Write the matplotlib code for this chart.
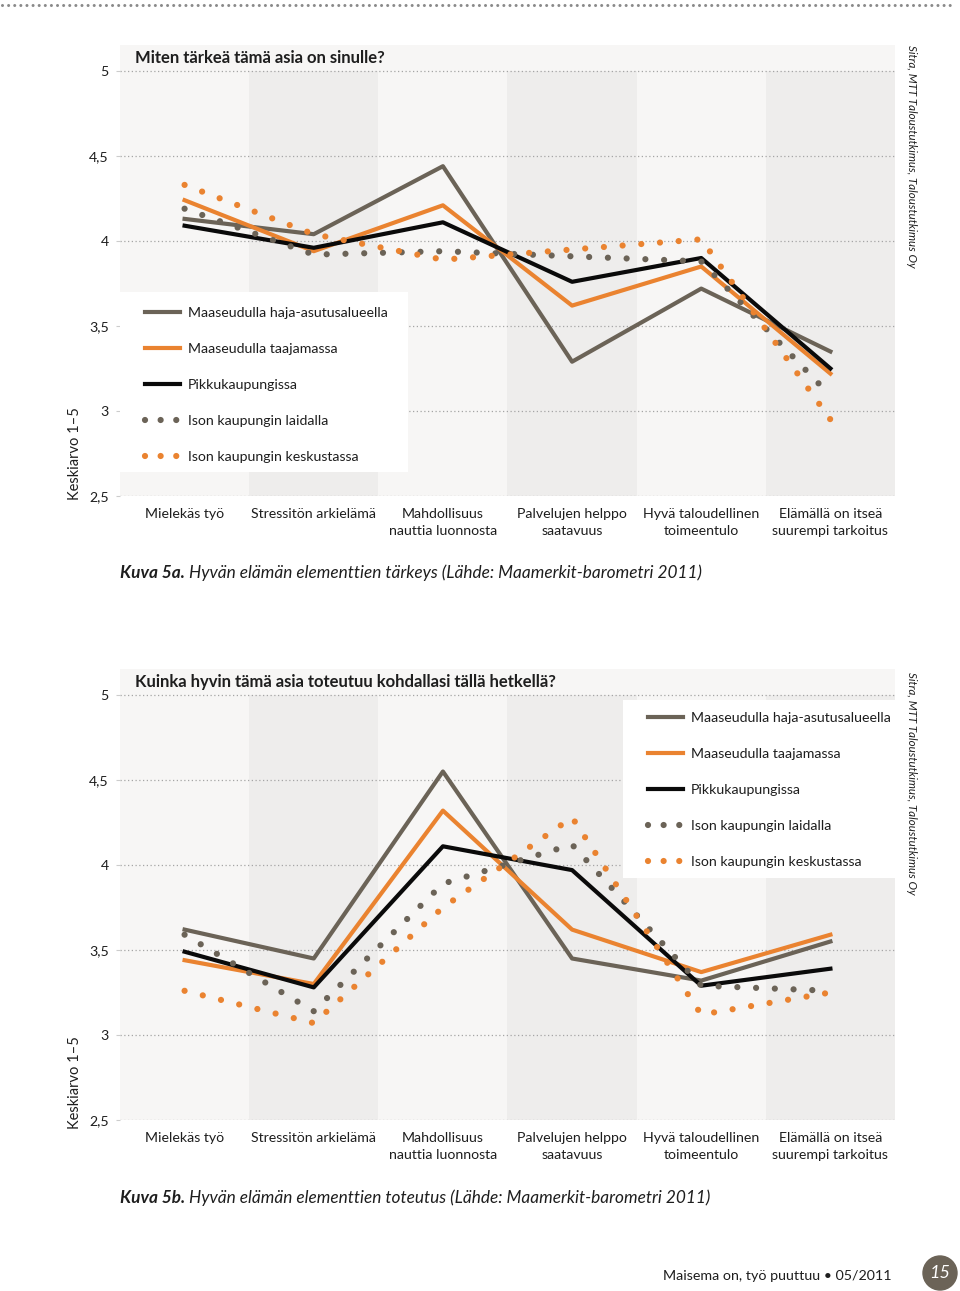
import matplotlib
matplotlib.use("Agg")
import matplotlib.pyplot as plt
from matplotlib.lines import Line2D
from matplotlib.patches import Rectangle, Circle

plt.rcParams['font.family'] = ['Lato', 'DejaVu Sans']

categories = ["Mielekäs työ", "Stressitön arkielämä", "Mahdollisuus\nnauttia luonnosta",
              "Palvelujen helppo\nsaatavuus", "Hyvä taloudellinen\ntoimeentulo",
              "Elämällä on itseä\nsuurempi tarkoitus"]
series_names = ["Maaseudulla haja-asutusalueella", "Maaseudulla taajamassa", "Pikkukaupungissa",
                "Ison kaupungin laidalla", "Ison kaupungin keskustassa"]
y_ticks = [2.5, 3, 3.5, 4, 4.5, 5]
y_ticklabels = ["2,5", "3", "3,5", "4", "4,5", "5"]

# Kuva 5a - tarkeys
a_haja = [4.13, 4.04, 4.44, 3.29, 3.72, 3.35]
a_taajama = [4.24, 3.94, 4.21, 3.62, 3.85, 3.22]
a_pikku = [4.09, 3.96, 4.11, 3.76, 3.90, 3.25]
a_laita = [4.19, 3.92, 3.94, 3.91, 3.88, 3.09]
a_keskusta = [4.33, 4.04, 3.89, 3.95, 4.01, 2.95]

# Kuva 5b - toteutus
b_haja = [3.62, 3.45, 4.55, 3.45, 3.32, 3.55]
b_taajama = [3.44, 3.30, 4.32, 3.62, 3.37, 3.59]
b_pikku = [3.49, 3.28, 4.11, 3.97, 3.29, 3.39]
b_laita = [3.59, 3.14, 3.89, 4.12, 3.29, 3.26]
b_keskusta = [3.26, 3.07, 3.75, 4.28, 3.12, 3.25]

GRAY = '#6b6357'
ORANGE = '#ea8330'
BLACK = '#0a0a0a'
BG_LIGHT = '#f7f6f5'
BG_DARK = '#eeedec'
TXT = '#1e1e1e'
FS = 10.2

W, H = 960, 1291
fig = plt.figure(figsize=(W / 100, H / 100), dpi=100)


def fx(x):
    return x / W


def fy(y):
    return 1 - y / H


def px_box(left, top, right, bottom):
    return [left / W, 1 - bottom / H, (right - left) / W, (bottom - top) / H]


DOTS = (0, (0.001, 3.0))
styles = [
    dict(color=GRAY, lw=3),
    dict(color=ORANGE, lw=3),
    dict(color=BLACK, lw=3),
    dict(color=GRAY, lw=4.5, linestyle=DOTS, dash_capstyle='round'),
    dict(color=ORANGE, lw=4.5, linestyle=DOTS, dash_capstyle='round'),
]


def make_chart(top, data, title, box, legend_anchor):
    ax = fig.add_axes(px_box(120, top, 895, top + 451))
    ax.set_facecolor(BG_LIGHT)
    x = list(range(len(categories)))
    # alternating column bands
    ax.bar(x[1::2], 2.5, bottom=2.5, width=1, color=BG_DARK, zorder=0)
    ax.set_xlim(-0.5, 5.5)
    ax.set_ylim(2.5, 5 + 26 / 170)
    for s in ax.spines.values():
        s.set_visible(False)
    ax.set_yticks(y_ticks)
    ax.set_yticklabels(y_ticklabels, fontsize=FS, color=TXT)
    ax.set_xticks(x)
    ax.set_xticklabels(categories, fontsize=FS, color=TXT, linespacing=1.45)
    ax.tick_params(axis='x', length=0, pad=9)
    ax.tick_params(axis='y', length=3, color='#cccccc', pad=5)
    ax.yaxis.grid(True, color='#a5a5a5', linestyle=(0, (1, 2)), lw=0.9)
    ax.set_axisbelow(True)

    for vals, st in zip(data, styles):
        ax.plot(x, vals, zorder=3, **st)

    ax.text(15 / 775, 1 - 13 / 451, title, transform=ax.transAxes, fontsize=12,
            fontweight='bold', color=TXT, va='center', ha='left')

    # white box behind the legend
    ax.add_patch(Rectangle((box[0], box[1]), box[2] - box[0], box[3] - box[1],
                           transform=ax.transAxes, facecolor='white', edgecolor='none',
                           zorder=4))
    handles = []
    for st in styles:
        st2 = dict(st)
        if 'linestyle' in st2:
            st2['linestyle'] = (0, (0.001, 2.5))
        handles.append(Line2D([], [], **st2))
    leg = ax.legend(handles, series_names, loc='center left', bbox_to_anchor=legend_anchor,
                    frameon=False, fontsize=FS, handlelength=2.47, handletextpad=0.56,
                    labelspacing=1.7, borderpad=0, borderaxespad=0)
    leg.set_zorder(5)
    for t in leg.get_texts():
        t.set_color(TXT)
    return ax


ax1 = make_chart(45, [a_haja, a_taajama, a_pikku, a_laita, a_keskusta],
                 "Miten tärkeä tämä asia on sinulle?",
                 (0, (496 - 472) / 451, (408 - 120) / 775, (496 - 292) / 451),
                 ((145 - 120) / 775, (496 - 385) / 451))
ax2 = make_chart(669, [b_haja, b_taajama, b_pikku, b_laita, b_keskusta],
                 "Kuinka hyvin tämä asia toteutuu kohdallasi tällä hetkellä?",
                 ((623 - 120) / 775, (1120 - 878) / 451, 1.0, (1120 - 700) / 451),
                 ((648 - 120) / 775, (1120 - 790) / 451))

# y axis labels
fig.text(fx(75), fy(454), "Keskiarvo 1–5", rotation=90, ha='center', va='center',
         fontsize=10.5, color=TXT)
fig.text(fx(75), fy(1083), "Keskiarvo 1–5", rotation=90, ha='center', va='center',
         fontsize=10.5, color=TXT)

# source text on the right
src = "Sitra, MTT Taloustutkimus, Taloustutkimus Oy"
fig.text(fx(912), fy(45), src, rotation=-90, ha='center', va='top', fontsize=8.3,
         style='italic', color=TXT)
fig.text(fx(912), fy(672), src, rotation=-90, ha='center', va='top', fontsize=8.3,
         style='italic', color=TXT)

# captions
renderer = fig.canvas.get_renderer()
for ypos, bold, rest in [(573, "Kuva 5a.", " Hyvän elämän elementtien tärkeys (Lähde: Maamerkit-barometri 2011)"),
                         (1198, "Kuva 5b.", " Hyvän elämän elementtien toteutus (Lähde: Maamerkit-barometri 2011)")]:
    t1 = fig.text(fx(120), fy(ypos), bold, fontsize=12.4, fontweight='bold', style='italic',
                  va='center', ha='left', color=TXT)
    bb = t1.get_window_extent(renderer)
    fig.text(bb.x1 / W, fy(ypos), rest, fontsize=12.4, style='italic', va='center',
             ha='left', color=TXT)

# dotted rule at the top of the page
fig.add_artist(Line2D([fx(2), fx(955)], [fy(5), fy(5)], transform=fig.transFigure,
                      color='#8a8a8a', lw=2.2, linestyle=(0, (0.001, 2.0)),
                      dash_capstyle='round'))

# footer
fig.text(fx(663), fy(1276), "Maisema on, työ puuttuu • 05/2011", fontsize=10.3,
         va='center', ha='left', color=TXT)
fig.add_artist(Circle((9.40, (H - 1273) / 100), 0.17, transform=fig.dpi_scale_trans,
                      color=GRAY))
fig.text(fx(940), fy(1273), "15", fontsize=13, style='italic', color='white',
         ha='center', va='center')

fig.savefig("out.png", dpi=100, facecolor='white')
